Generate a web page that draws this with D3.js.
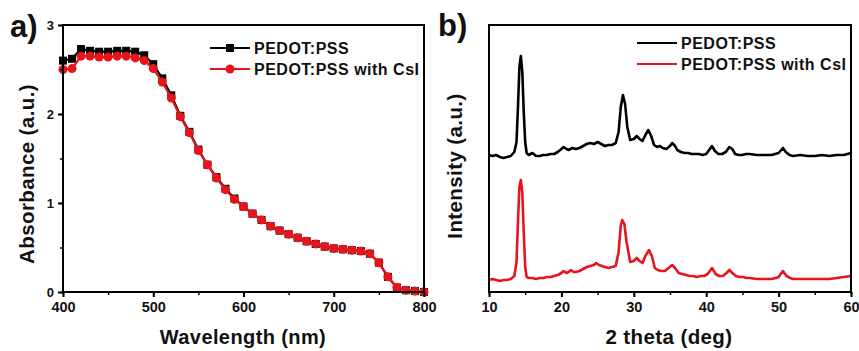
<!DOCTYPE html>
<html>
<head>
<meta charset="utf-8">
<script src="https://cdn.jsdelivr.net/npm/d3@7"></script>
<style>
  body { margin: 0; background: #fff; }
  svg { display: block; font-family: Arial, "Liberation Sans", sans-serif; font-weight: bold; }
</style>
</head>
<body>
<svg id="chart" width="859" height="351"></svg>
<script>
// panel a: absorbance, one point every 10 nm
const wavelengths = d3.range(400, 801, 10);
const absPedot = [2.60, 2.62, 2.73, 2.71, 2.70, 2.70, 2.71, 2.71, 2.70, 2.66,
  2.56, 2.40, 2.21, 1.98, 1.80, 1.60, 1.43, 1.29, 1.16, 1.05,
  0.96, 0.88, 0.81, 0.74, 0.69, 0.65, 0.61, 0.57, 0.54, 0.51,
  0.49, 0.48, 0.47, 0.46, 0.43, 0.33, 0.17, 0.05, 0.02, 0.01, 0.00];
const absCsI = [2.50, 2.51, 2.65, 2.65, 2.64, 2.64, 2.65, 2.65, 2.63, 2.60,
  2.51, 2.36, 2.18, 1.97, 1.79, 1.59, 1.43, 1.28, 1.15, 1.04,
  0.96, 0.88, 0.81, 0.74, 0.69, 0.65, 0.61, 0.57, 0.54, 0.51,
  0.49, 0.48, 0.47, 0.46, 0.43, 0.33, 0.17, 0.05, 0.02, 0.01, 0.00];

// panel b: XRD, [2theta, intensity (a.u.)]
const xrdPedot = [[10,137],[10.5,136],[11,137],[11.5,135],[12,134],[12.5,135],[13,136],[13.5,140],[13.8,150],
  [14,185],[14.2,225],[14.4,236],[14.6,220],[14.8,180],[15,150],[15.2,139],[15.5,137],[16,139],[16.5,136],
  [17,136],[17.5,137],[18,137],[18.5,138],[19,138],[19.5,140],[20,143],[20.3,145],[20.7,143],[21,142],
  [21.5,144],[22,143],[22.5,144],[23,146],[23.5,148],[24,149],[24.5,148],[25,150],[25.5,148],[26,146],
  [26.5,147],[27,147],[27.5,149],[27.9,160],[28.2,185],[28.5,197],[28.8,188],[29.1,165],[29.5,152],
  [30,153],[30.4,156],[30.8,153],[31.2,151],[31.6,157],[32,162],[32.4,156],[32.8,147],[33.2,145],
  [33.6,146],[34,144],[34.5,143],[35,146],[35.3,149],[35.7,146],[36,142],[36.5,140],[37,139],[37.5,139],
  [38,138],[38.5,138],[39,138],[39.5,137],[40,138],[40.4,142],[40.8,146],[41.2,141],[41.7,138],[42.2,138],
  [42.7,140],[43.2,145],[43.6,143],[44,138],[44.5,137],[45,137],[45.5,138],[46,138],[47,137],[48,137],
  [49,137],[49.5,138],[50,139],[50.6,144],[51,140],[51.5,137],[52,136],[53,137],[54,136],[55,136],
  [56,137],[57,136],[58,137],[59,137],[60,139]];
const xrdCsI = [[10,12],[10.5,13],[11,12],[11.5,11],[12,12],[12.5,12],[13,13],[13.5,16],[13.8,30],
  [14,70],[14.2,105],[14.4,112],[14.6,100],[14.8,60],[15,25],[15.2,15],[15.5,14],[16,14],[16.5,13],
  [17,14],[17.5,14],[18,15],[18.5,15],[19,16],[19.5,17],[20,19],[20.3,21],[20.7,19],[21,20],[21.3,22],
  [21.7,20],[22,20],[22.5,21],[23,23],[23.5,25],[24,26],[24.5,27],[24.8,29],[25.2,27],[25.6,26],[26,25],
  [26.5,24],[27,25],[27.5,26],[27.9,40],[28.2,66],[28.4,72],[28.7,68],[29,50],[29.5,30],[30,31],[30.4,34],
  [30.8,31],[31.2,29],[31.6,36],[32.1,42],[32.5,36],[32.9,24],[33.3,22],[33.8,21],[34.3,21],[34.8,24],
  [35.3,27],[35.7,24],[36.2,19],[36.7,18],[37.2,17],[37.7,16],[38.2,16],[38.7,15],[39.2,16],[39.7,16],
  [40.2,18],[40.8,24],[41.3,18],[41.8,16],[42.3,16],[42.8,19],[43.2,22],[43.6,19],[44.1,16],[44.6,15],
  [45.1,15],[45.6,14],[46,14],[47,13],[48,13],[49,13],[49.6,14],[50,15],[50.6,21],[51.1,16],[51.6,14],
  [52,13],[53,13],[54,13],[55,13],[56,13],[57,13],[58,14],[59,15],[60,16]];

const seriesNames = ['PEDOT:PSS', 'PEDOT:PSS with CsI'];
const colors = ['#000000', '#e8141c'];
const xTicksA = [400, 500, 600, 700, 800];
const yTicksA = [0, 1, 2, 3];
const xTicksB = [10, 20, 30, 40, 50, 60];

const svg = d3.select('#chart');

function frame(g, x, y) {
  const [x0, x1] = x.range();
  const [y0, y1] = y.range();
  g.append('rect')
    .attr('x', x0).attr('y', y1)
    .attr('width', x1 - x0).attr('height', y0 - y1)
    .attr('fill', 'none').attr('stroke', '#000').attr('stroke-width', 2);
}

function xAxis(g, x, y, ticks, minorStep) {
  const y0 = y.range()[0];
  const minor = d3.range(x.domain()[0], x.domain()[1] + 1e-9, minorStep);
  g.append('g').attr('transform', `translate(0,${y0})`)
    .call(d3.axisBottom(x).tickValues(minor).tickSize(3).tickFormat(''))
    .call((s) => s.select('.domain').remove())
    .call((s) => s.selectAll('line').attr('stroke-width', 1.5));
  const ax = g.append('g').attr('transform', `translate(0,${y0})`)
    .call(d3.axisBottom(x).tickValues(ticks).tickSize(5).tickPadding(5));
  ax.select('.domain').remove();
  ax.selectAll('line').attr('stroke-width', 2);
  ax.selectAll('text').attr('font-size', 14.5).attr('font-weight', 'bold')
    .attr('font-family', 'Arial, "Liberation Sans", sans-serif').attr('fill', '#111');
}

function legend(g, x0, y0, withMarkers) {
  seriesNames.forEach((name, i) => {
    const yy = y0 + i * 21;
    g.append('line').attr('x1', x0).attr('x2', x0 + 40).attr('y1', yy).attr('y2', yy)
      .attr('stroke', colors[i]).attr('stroke-width', 2.2);
    if (withMarkers) {
      if (i === 0) {
        g.append('rect').attr('x', x0 + 16).attr('y', yy - 4).attr('width', 8).attr('height', 8)
          .attr('fill', colors[i]);
      } else {
        g.append('circle').attr('cx', x0 + 20).attr('cy', yy).attr('r', 4.5).attr('fill', colors[i]);
      }
    }
    g.append('text').attr('x', x0 + 44).attr('y', yy + 5.5)
      .attr('font-size', 16).attr('letter-spacing', 0.5).attr('fill', '#111').text(name);
  });
}

// ---- panel a ----
const xa = d3.scaleLinear().domain([400, 800]).range([63, 424]);
const ya = d3.scaleLinear().domain([0, 3]).range([292, 25]);
const ga = svg.append('g');

const lineA = d3.line().x((d) => xa(d[0])).y((d) => ya(d[1]));
[absPedot, absCsI].forEach((vals, i) => {
  const pts = wavelengths.map((w, j) => [w, vals[j]]);
  ga.append('path').datum(pts).attr('d', lineA)
    .attr('fill', 'none').attr('stroke', colors[i]).attr('stroke-width', 2.2);
  if (i === 0) {
    ga.selectAll('rect.m0').data(pts).enter().append('rect').attr('class', 'm0')
      .attr('x', (d) => xa(d[0]) - 4).attr('y', (d) => ya(d[1]) - 4)
      .attr('width', 8).attr('height', 8).attr('fill', colors[i]);
  } else {
    ga.selectAll('circle.m1').data(pts).enter().append('circle').attr('class', 'm1')
      .attr('cx', (d) => xa(d[0])).attr('cy', (d) => ya(d[1])).attr('r', 4.5).attr('fill', colors[i]);
  }
});

frame(ga, xa, ya);
xAxis(ga, xa, ya, xTicksA, 50);
// y axis with ticks
ga.append('g').attr('transform', `translate(${xa.range()[0]},0)`)
  .call(d3.axisLeft(ya).tickValues(d3.range(0, 3.01, 0.5)).tickSize(3).tickFormat(''))
  .call((s) => s.select('.domain').remove())
  .call((s) => s.selectAll('line').attr('stroke-width', 1.5));
const yaxA = ga.append('g').attr('transform', `translate(${xa.range()[0]},0)`)
  .call(d3.axisLeft(ya).tickValues(yTicksA).tickSize(5).tickPadding(4).tickFormat(d3.format('d')));
yaxA.select('.domain').remove();
yaxA.selectAll('line').attr('stroke-width', 2);
yaxA.selectAll('text').attr('font-size', 13).attr('font-weight', 'bold')
  .attr('font-family', 'Arial, "Liberation Sans", sans-serif').attr('fill', '#111');

legend(ga, 210, 48, true);
ga.append('text').attr('x', 243).attr('y', 344).attr('text-anchor', 'middle')
  .attr('font-size', 20).attr('letter-spacing', 0.4).attr('fill', '#111').text('Wavelength (nm)');
ga.append('text').attr('transform', 'translate(34,174) rotate(-90)').attr('text-anchor', 'middle')
  .attr('font-size', 20.5).attr('letter-spacing', 0.4).attr('fill', '#111').text('Absorbance (a.u.)');
ga.append('text').attr('x', 10).attr('y', 37).attr('font-size', 31).attr('fill', '#111').text('a)');

// ---- panel b ----
const xb = d3.scaleLinear().domain([10, 60]).range([489, 851]);
const yb = d3.scaleLinear().domain([0, 267]).range([292, 25]);
const gb = svg.append('g');

const lineB = d3.line().x((d) => xb(d[0])).y((d) => yb(d[1]));
[xrdPedot, xrdCsI].forEach((pts, i) => {
  gb.append('path').datum(pts).attr('d', lineB)
    .attr('fill', 'none').attr('stroke', colors[i]).attr('stroke-width', 2.6)
    .attr('stroke-linejoin', 'round');
});

frame(gb, xb, yb);
xAxis(gb, xb, yb, xTicksB, 5);

legend(gb, 637, 43, false);
gb.append('text').attr('x', 669).attr('y', 344).attr('text-anchor', 'middle')
  .attr('font-size', 20.5).attr('letter-spacing', 0.4).attr('fill', '#111').text('2 theta (deg)');
gb.append('text').attr('transform', 'translate(462,166) rotate(-90)').attr('text-anchor', 'middle')
  .attr('font-size', 20.5).attr('letter-spacing', 0.4).attr('fill', '#111').text('Intensity (a.u.)');
gb.append('text').attr('x', 438).attr('y', 36).attr('font-size', 31).attr('fill', '#111').text('b)');
</script>
</body>
</html>
